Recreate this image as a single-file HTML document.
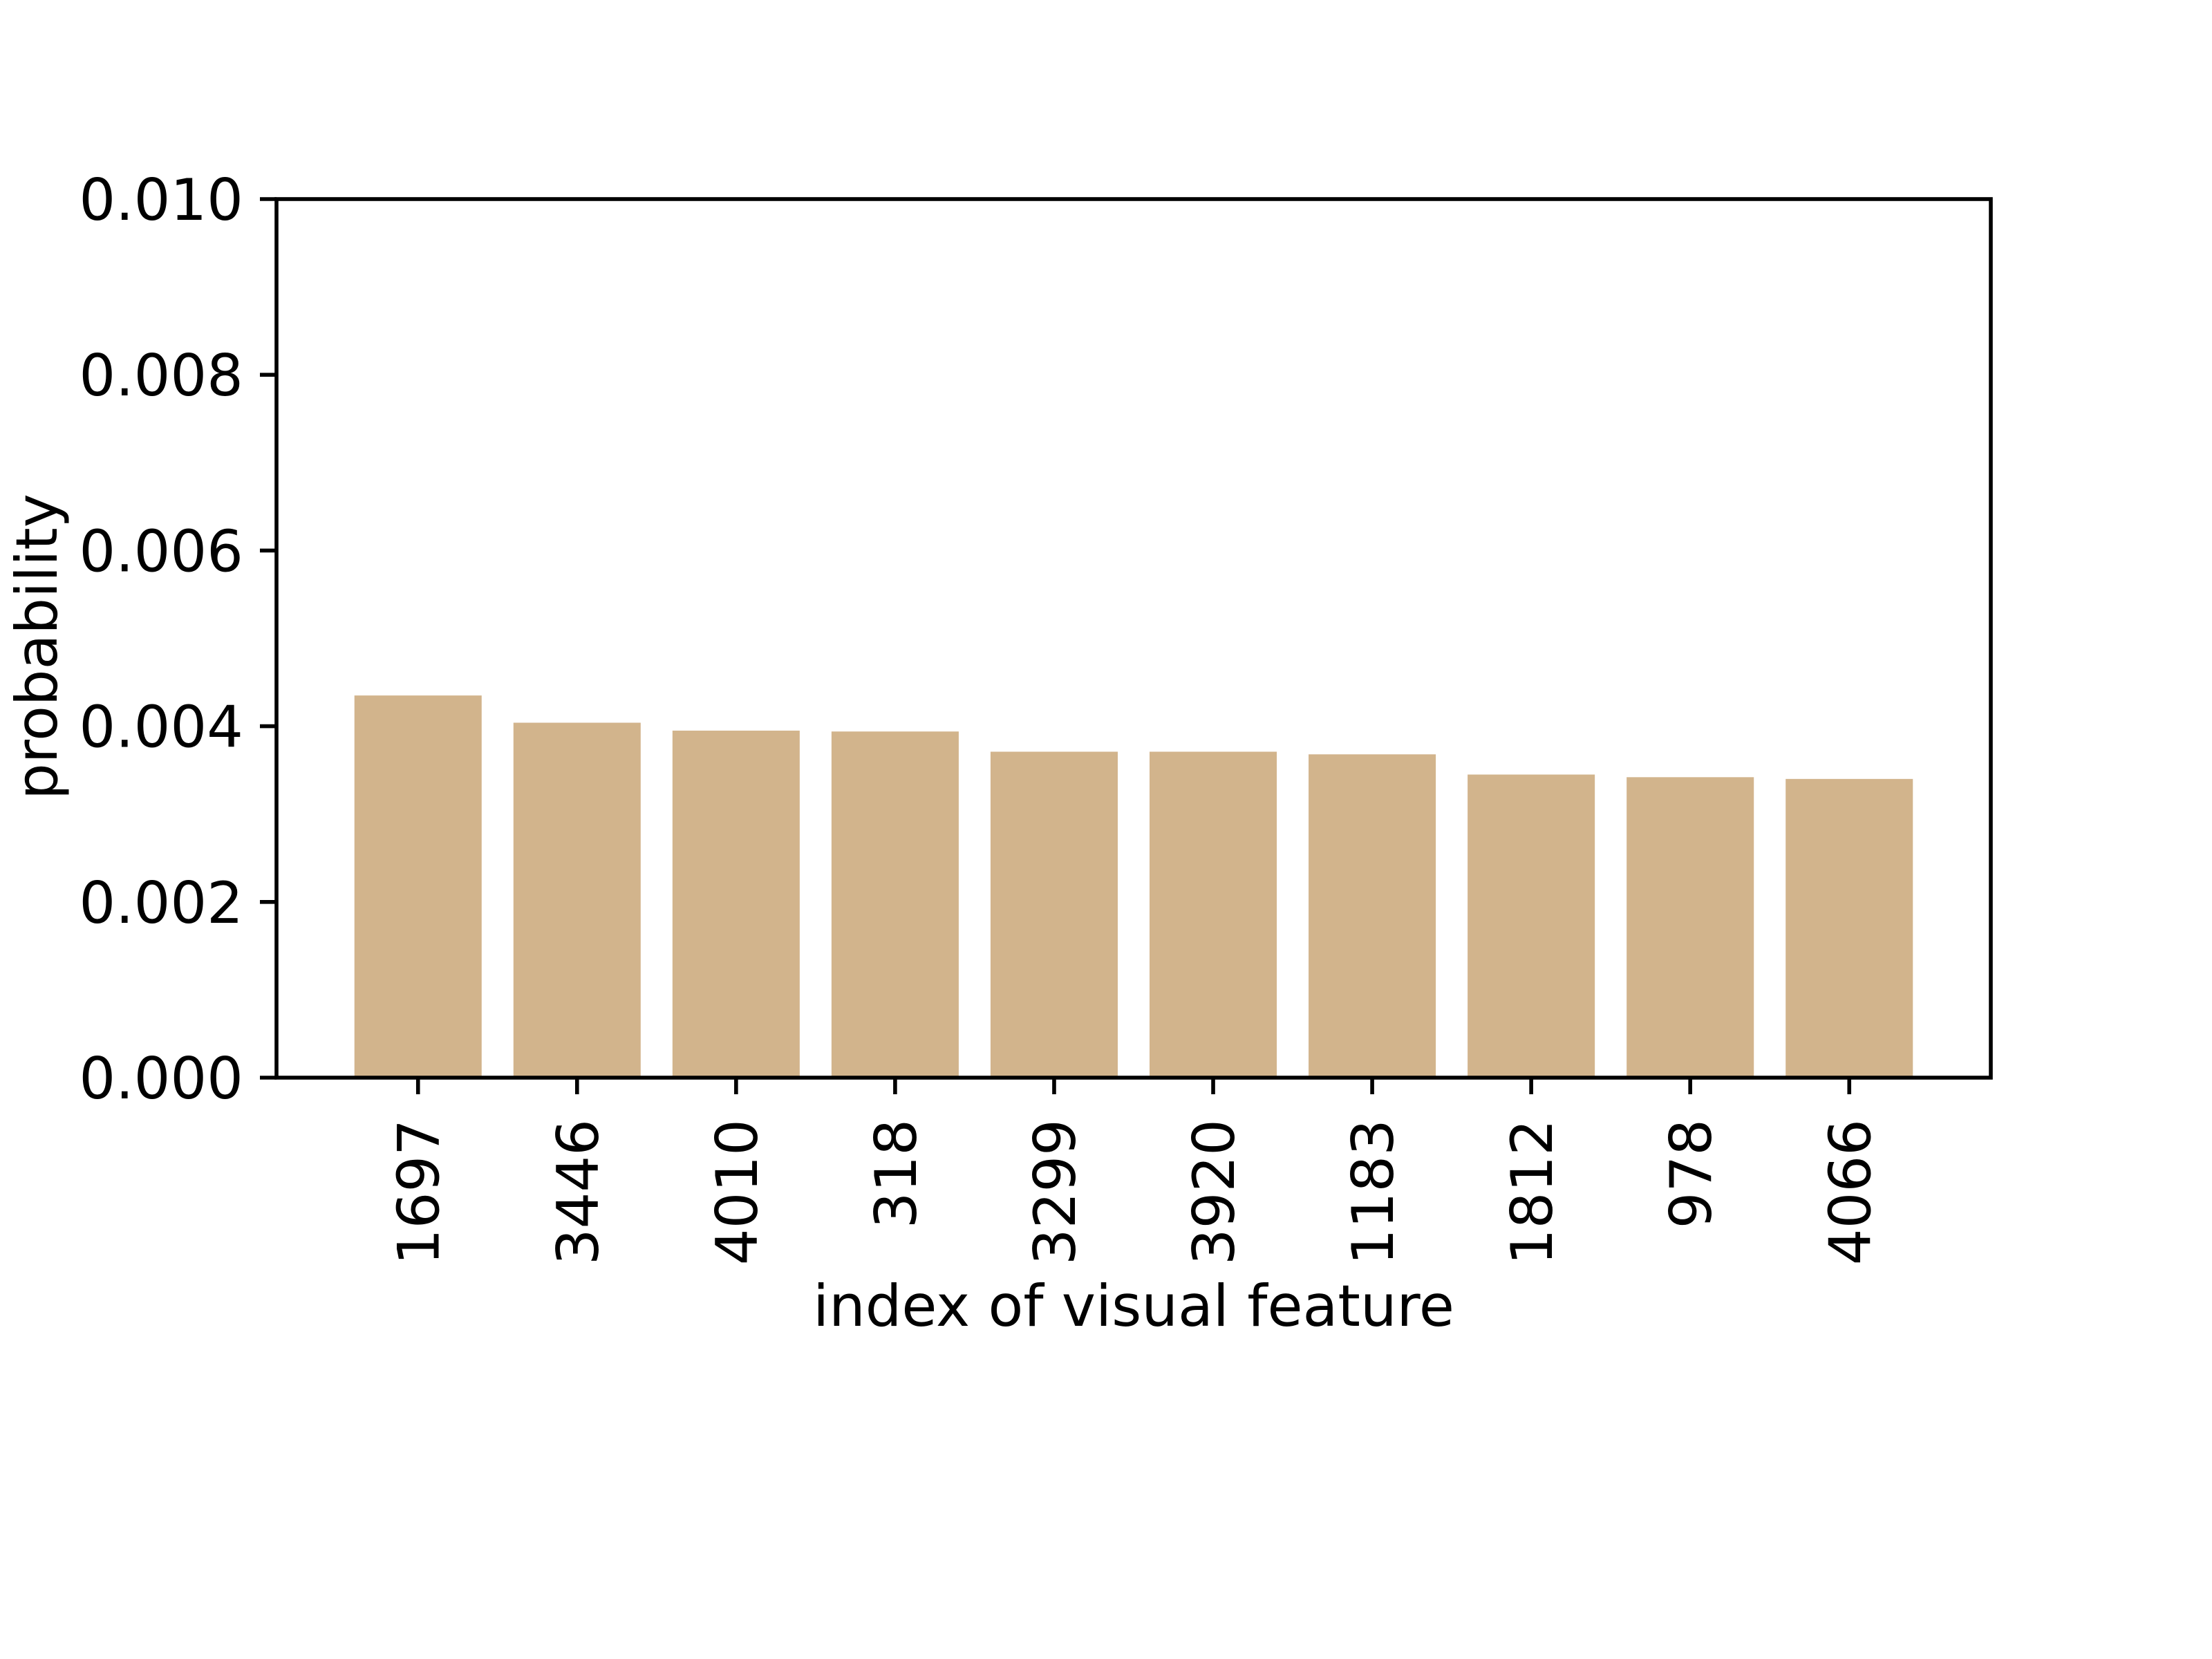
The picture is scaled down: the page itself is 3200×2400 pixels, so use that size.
<!DOCTYPE html>
<html><head><meta charset="utf-8"><style>html,body{margin:0;padding:0;background:#fff}svg{display:block}text{font-family:"DejaVu Sans","Liberation Sans",sans-serif;fill:#000}</style></head>
<body>
<svg id="chart" width="3200" height="2400" viewBox="0 0 3200 2400" xmlns="http://www.w3.org/2000/svg">
<defs><clipPath id="xclip"><rect x="0" y="0" width="3200" height="1838"/></clipPath></defs>
<rect width="3200" height="2400" fill="#fff"/>
<g id="bars"></g>
<g id="axes"></g>
<g id="xlabels" clip-path="url(#xclip)"></g>
</svg>
<script>
const categories = ["1697","3446","4010","318","3299","3920","1183","1812","978","4066"];
const values = [0.00435,0.00404,0.00395,0.00394,0.00371,0.00371,0.00368,0.00345,0.00342,0.00340];
const yTicks = [0,0.002,0.004,0.006,0.008,0.010];
const yTickLabels = ["0.000","0.002","0.004","0.006","0.008","0.010"];

const NS="http://www.w3.org/2000/svg";
const L=400,R=2880,T=288,B=1559;
const FS=83;
const xmin=-0.89,xmax=categories.length-1+0.89;
const ymin=0,ymax=0.010;
function xs(v){return L+(v-xmin)/(xmax-xmin)*(R-L);}
function ys(v){return B-(v-ymin)/(ymax-ymin)*(B-T);}
function mk(tag,attrs,parent,txt){const e=document.createElementNS(NS,tag);for(const k in attrs)e.setAttribute(k,attrs[k]);if(txt!==undefined)e.textContent=txt;parent.appendChild(e);return e;}
const gb=document.getElementById('bars'),ga=document.getElementById('axes'),gx=document.getElementById('xlabels');
values.forEach((v,i)=>{
  const x0=xs(i-0.4),x1=xs(i+0.4);
  const r=mk('rect',{x:x0,y:ys(v),width:x1-x0,height:ys(0)-ys(v),fill:'#d2b48c'},gb);
  
  
});
const frame=mk('rect',{x:L,y:T,width:R-L,height:B-T,fill:'none',stroke:'#000','stroke-width':5.6},ga);


yTicks.forEach((v,i)=>{
  const y=ys(v);
  const t=mk('line',{x1:L,x2:L-24,y1:y,y2:y,stroke:'#000','stroke-width':5.6},ga);
  
  
  const tx=mk('text',{x:L-48,y:y+30,'text-anchor':'end','font-size':FS},ga,yTickLabels[i]);
  
  
});
categories.forEach((c,i)=>{
  const x=xs(i);
  const t=mk('line',{x1:x,x2:x,y1:B,y2:B+24,stroke:'#000','stroke-width':5.6},ga);
  
  
  const tx=mk('text',{x:0,y:0,'text-anchor':'end','font-size':FS,transform:`translate(${x+30},${B+60}) rotate(-90)`},gx,c);
  
  
});
const xl=mk('text',{x:(L+R)/2,y:1918,'text-anchor':'middle','font-size':FS},ga,'index of visual feature');


const yl=mk('text',{x:0,y:0,'text-anchor':'middle','font-size':FS,transform:`translate(82,${(T+B)/2+12}) rotate(-90)`},ga,'probability');


</script>
</body></html>
